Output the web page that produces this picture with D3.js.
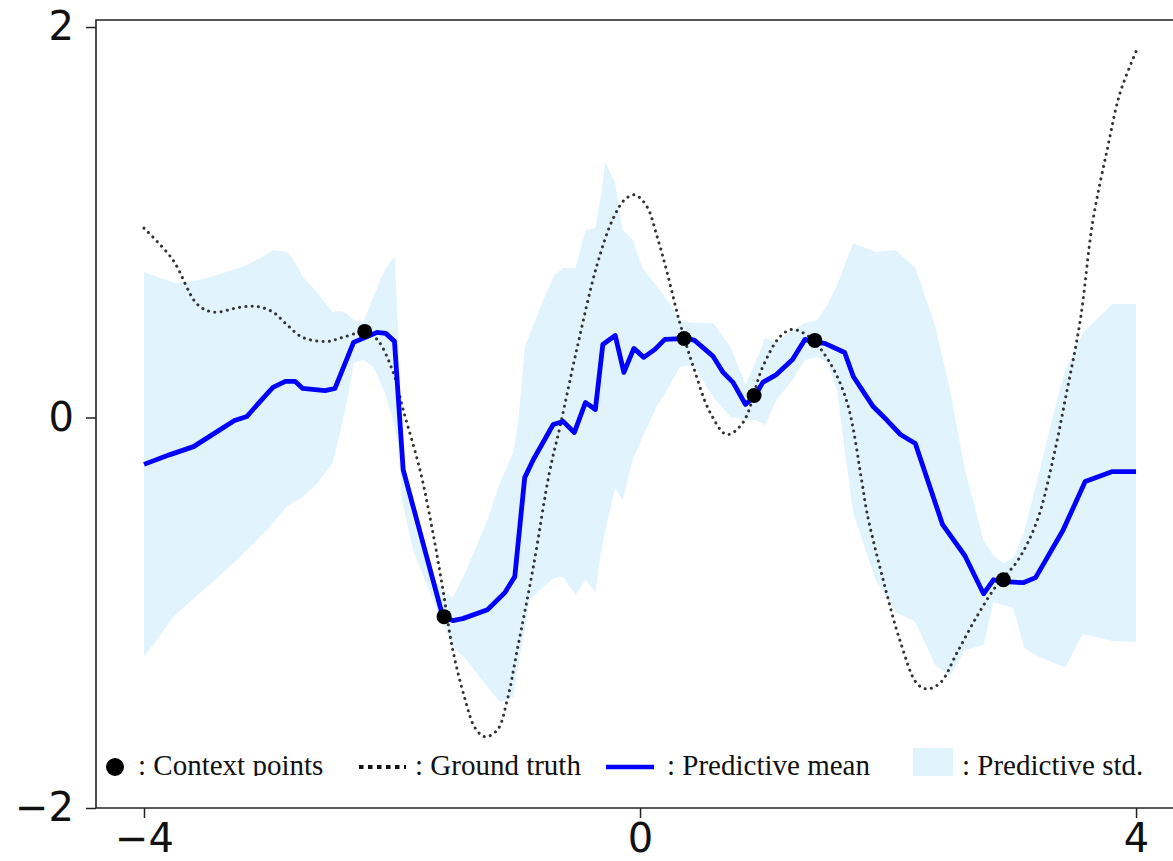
<!DOCTYPE html>
<html lang="en">
<head>
<meta charset="utf-8">
<title>Predictive curve</title>
<script src="https://d3js.org/d3.v7.min.js"></script>
<style>
body { margin: 0; background: #fff; }
.tick text { font-family: "DejaVu Sans", sans-serif; font-size: 40px; fill: #111; }
.tick line { stroke: #222; stroke-width: 1.5; }
.domain { display: none; }
.spine { stroke: #222; stroke-width: 1.6; fill: none; }
.legend text { font-family: "Liberation Serif", "Times New Roman", serif; font-size: 29px; fill: #111; }
</style>
</head>
<body>
<div id="chart"></div>
<script>
// values
var xTicks = [-4, 0, 4];
var yTicks = [-2, 0, 2];

var ctxX = [-2.22, -1.58, 0.355, 0.92, 1.41, 2.93];
var ctxY = [0.441, -1.02, 0.405, 0.113, 0.395, -0.831];

var meanX = [-4.0, -3.79, -3.60, -3.43, -3.27, -3.17, -3.05, -2.96, -2.86, -2.78, -2.72, -2.54, -2.46, -2.31, -2.20, -2.12, -2.05, -1.98, -1.91, -1.59, -1.51, -1.43, -1.23, -1.09, -1.01, -0.93, -0.86, -0.70, -0.62, -0.53, -0.44, -0.36, -0.30, -0.20, -0.13, -0.05, 0.03, 0.12, 0.20, 0.38, 0.44, 0.59, 0.67, 0.75, 0.85, 0.93, 0.99, 1.10, 1.23, 1.33, 1.41, 1.49, 1.65, 1.72, 1.88, 1.99, 2.10, 2.22, 2.44, 2.62, 2.77, 2.85, 2.94, 3.09, 3.19, 3.41, 3.59, 3.81, 4.0];
var meanY = [-0.24, -0.19, -0.149, -0.08, -0.015, 0.005, 0.092, 0.154, 0.185, 0.185, 0.149, 0.138, 0.149, 0.385, 0.415, 0.436, 0.431, 0.39, -0.267, -1.02, -1.04, -1.03, -0.985, -0.897, -0.815, -0.308, -0.215, -0.036, -0.02, -0.077, 0.077, 0.041, 0.374, 0.42, 0.231, 0.354, 0.308, 0.349, 0.40, 0.405, 0.395, 0.313, 0.231, 0.18, 0.067, 0.113, 0.18, 0.22, 0.297, 0.40, 0.385, 0.38, 0.333, 0.21, 0.056, -0.013, -0.087, -0.133, -0.549, -0.708, -0.903, -0.831, -0.841, -0.846, -0.82, -0.579, -0.328, -0.277, -0.277];

var truthX = [-4.0, -3.77, -3.57, -3.44, -3.23, -3.09, -2.96, -2.85, -2.72, -2.52, -2.40, -2.22, -2.12, -1.99, -1.91, -1.77, -1.67, -1.59, -1.51, -1.41, -1.33, -1.25, -1.15, -1.07, -0.99, -0.86, -0.73, -0.645, -0.51, -0.35, -0.22, -0.12, -0.04, 0.056, 0.137, 0.218, 0.32, 0.43, 0.565, 0.70, 0.83, 0.99, 1.13, 1.23, 1.37, 1.53, 1.67, 1.79, 1.83, 1.96, 2.10, 2.23, 2.31, 2.42, 2.56, 2.72, 2.88, 3.04, 3.20, 3.33, 3.44, 3.55, 3.65, 3.77, 3.87, 4.0];
var truthY = [0.97, 0.81, 0.58, 0.54, 0.564, 0.569, 0.54, 0.477, 0.41, 0.39, 0.41, 0.436, 0.40, 0.23, 0.04, -0.28, -0.59, -0.88, -1.19, -1.445, -1.59, -1.635, -1.60, -1.445, -1.19, -0.764, -0.28, -0.046, 0.349, 0.774, 1.015, 1.118, 1.14, 1.08, 0.928, 0.744, 0.487, 0.26, 0.026, -0.087, -0.026, 0.26, 0.415, 0.451, 0.41, 0.282, 0.077, -0.333, -0.487, -0.83, -1.15, -1.36, -1.39, -1.36, -1.20, -1.015, -0.856, -0.738, -0.533, -0.215, 0.128, 0.497, 1.00, 1.38, 1.66, 1.875];

var bandX = [-4.0, -3.75, -3.55, -3.31, -3.17, -3.01, -2.96, -2.85, -2.80, -2.72, -2.60, -2.48, -2.42, -2.36, -2.31, -2.23, -2.15, -2.06, -1.98, -1.95, -1.92, -1.83, -1.67, -1.51, -1.40, -1.23, -1.13, -1.02, -0.98, -0.93, -0.89, -0.78, -0.69, -0.62, -0.52, -0.44, -0.36, -0.32, -0.28, -0.20, -0.14, -0.06, 0.02, 0.14, 0.22, 0.32, 0.43, 0.59, 0.73, 0.85, 0.93, 1.01, 1.10, 1.23, 1.33, 1.43, 1.51, 1.59, 1.65, 1.72, 1.90, 2.06, 2.22, 2.38, 2.50, 2.62, 2.77, 2.85, 2.93, 3.01, 3.10, 3.20, 3.36, 3.43, 3.57, 3.81, 4.0];
var bandUpper = [0.745, 0.689, 0.704, 0.750, 0.781, 0.837, 0.858, 0.848, 0.817, 0.720, 0.638, 0.541, 0.545, 0.530, 0.499, 0.489, 0.617, 0.755, 0.822, 0.448, -0.166, -0.525, -0.832, -0.925, -0.781, -0.525, -0.335, -0.177, -0.013, 0.361, 0.423, 0.602, 0.730, 0.766, 0.766, 0.960, 0.971, 1.114, 1.309, 1.201, 0.960, 0.909, 0.766, 0.668, 0.602, 0.499, 0.484, 0.484, 0.361, 0.166, 0.279, 0.407, 0.381, 0.448, 0.484, 0.499, 0.576, 0.679, 0.781, 0.894, 0.848, 0.858, 0.766, 0.469, 0.141, -0.269, -0.627, -0.709, -0.745, -0.720, -0.581, -0.330, 0.079, 0.243, 0.433, 0.581, 0.581];
var bandLower = [-1.226, -1.012, -0.899, -0.766, -0.679, -0.576, -0.540, -0.458, -0.438, -0.407, -0.335, -0.233, -0.079, 0.090, 0.279, 0.294, 0.259, 0.131, -0.038, -0.141, -0.423, -0.679, -0.935, -1.176, -1.242, -1.380, -1.457, -1.431, -1.257, -1.088, -0.935, -0.868, -0.822, -0.817, -0.909, -0.832, -0.894, -0.714, -0.576, -0.361, -0.423, -0.218, -0.100, 0.064, 0.141, 0.259, 0.269, 0.105, 0.003, -0.013, -0.013, -0.038, 0.090, 0.192, 0.294, 0.310, 0.284, 0.141, -0.166, -0.489, -0.832, -0.996, -1.047, -1.267, -1.324, -1.191, -1.165, -0.945, -0.960, -0.976, -1.180, -1.221, -1.262, -1.278, -1.109, -1.145, -1.150];

var legendLabels = [": Context points", ": Ground truth", ": Predictive mean", ": Predictive std."];

var W = 1173, H = 861;
var mLeft = 96, mTop = 20, mBottom = 808;

var svg = d3.select("#chart").append("svg")
  .attr("width", W)
  .attr("height", H);

var x = d3.scaleLinear().domain([-4.387, 4.298]).range([mLeft, W]);
var y = d3.scaleLinear().domain([-2, 2.036]).range([mBottom, mTop]);

var plot = svg.append("g");

// std band
var band = d3.area()
  .x(function(d, i) { return x(bandX[i]); })
  .y0(function(d, i) { return y(bandLower[i]); })
  .y1(function(d, i) { return y(bandUpper[i]); });
plot.append("path")
  .datum(bandX)
  .attr("d", band)
  .attr("fill", "#e1f3fd");

// ground truth, dotted
var truthLine = d3.line()
  .x(function(d, i) { return x(truthX[i]); })
  .y(function(d, i) { return y(truthY[i]); })
  .curve(d3.curveCatmullRom.alpha(0.5));
plot.append("path")
  .datum(truthX)
  .attr("d", truthLine)
  .attr("fill", "none")
  .attr("stroke", "#333")
  .attr("stroke-width", 3)
  .attr("stroke-linecap", "round")
  .attr("stroke-dasharray", "0.1 6.2");

// predictive mean
var meanLine = d3.line()
  .x(function(d, i) { return x(meanX[i]); })
  .y(function(d, i) { return y(meanY[i]); });
plot.append("path")
  .datum(meanX)
  .attr("d", meanLine)
  .attr("fill", "none")
  .attr("stroke", "#0000ff")
  .attr("stroke-width", 4.8)
  .attr("stroke-linejoin", "round");

// context points
plot.selectAll("circle.ctx")
  .data(ctxX)
  .enter().append("circle")
  .attr("class", "ctx")
  .attr("cx", function(d) { return x(d); })
  .attr("cy", function(d, i) { return y(ctxY[i]); })
  .attr("r", 7.5)
  .attr("fill", "#000");

// axes
var fmt = d3.format("d");
svg.append("g")
  .attr("transform", "translate(0," + mBottom + ")")
  .call(d3.axisBottom(x).tickValues(xTicks).tickFormat(fmt).tickSize(10).tickPadding(6));
svg.append("g")
  .attr("transform", "translate(" + mLeft + ",0)")
  .call(d3.axisLeft(y).tickValues(yTicks).tickFormat(fmt).tickSize(10).tickPadding(12));

// spines (right side cropped off)
svg.append("path")
  .attr("class", "spine")
  .attr("d", "M" + W + "," + mTop + "H" + mLeft + "V" + mBottom + "H" + W);

// legend, bottom edge clipped like the source
svg.append("clipPath").attr("id", "legclip")
  .append("rect").attr("x", 0).attr("y", 730).attr("width", W).attr("height", 46);

var leg = svg.append("g").attr("class", "legend").attr("clip-path", "url(#legclip)");
var ly = 767, base = 775;

leg.append("circle").attr("cx", 115).attr("cy", ly).attr("r", 9).attr("fill", "#000");
leg.append("line").attr("x1", 359).attr("x2", 406).attr("y1", ly).attr("y2", ly)
  .attr("stroke", "#111").attr("stroke-width", 4).attr("stroke-dasharray", "4.5 4.5");
leg.append("line").attr("x1", 606).attr("x2", 654).attr("y1", ly).attr("y2", ly)
  .attr("stroke", "#0000ff").attr("stroke-width", 4.5);
leg.append("rect").attr("x", 913).attr("y", 748).attr("width", 40).attr("height", 36)
  .attr("fill", "#e1f3fd");

var textX = [138, 415, 667, 962];
leg.selectAll("text")
  .data(legendLabels)
  .enter().append("text")
  .attr("x", function(d, i) { return textX[i]; })
  .attr("y", base)
  .text(function(d) { return d; });
</script>
</body>
</html>
